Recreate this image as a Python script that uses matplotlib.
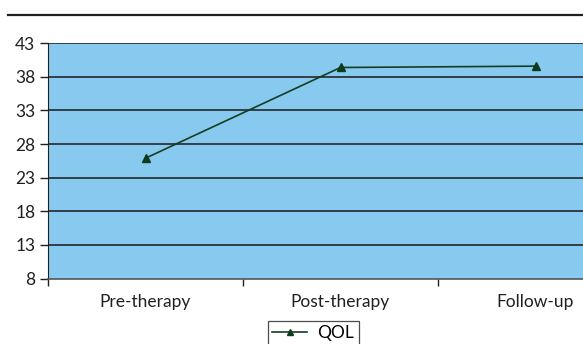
import matplotlib
matplotlib.use("Agg")
import matplotlib.pyplot as plt
from matplotlib.lines import Line2D

categories = ["Pre-therapy", "Post-therapy", "Follow-up"]
qol = [25.9, 39.4, 39.6]
yticks = [8, 13, 18, 23, 28, 33, 38, 43]

plt.rcParams['font.family'] = ['Lato', 'DejaVu Sans']

W, H = 583, 344
fig = plt.figure(figsize=(W/100, H/100), dpi=100)
fig.patch.set_facecolor("white")

# top rule
fig.add_artist(Line2D([8/W, 1.0], [1-15/H, 1-15/H], color="#231f20", lw=1.6, transform=fig.transFigure))

left, right = 48/W, 633/W
bottom, top = 1-278.5/H, 1-43.3/H
ax = fig.add_axes([left, bottom, right-left, top-bottom])
ax.set_facecolor("#88C9EF")
ax.set_xlim(-0.5, 2.5)
ax.set_ylim(8, 43)
ax.set_yticks(yticks)
ax.set_yticklabels([str(v) for v in yticks], fontsize=12.5, color="#231f20")
for v in yticks[1:]:
    ax.axhline(v, color="#1a1a1a", lw=1.1, zorder=2)
ax.set_xticks([0, 1, 2])
ax.set_xticklabels(categories, fontsize=12.5, color="#231f20")
ax.tick_params(axis='x', length=0, pad=11)
ax.set_xticks([-0.5, 0.5, 1.5, 2.5], minor=True)
ax.tick_params(axis='x', which='minor', length=5, width=1, color="#231f20", direction='out')
ax.tick_params(axis='y', length=6, width=1, color="#231f20", pad=3)
for s in ['top', 'right']:
    ax.spines[s].set_visible(False)
ax.spines['left'].set_color("#231f20")
ax.spines['bottom'].set_color("#555555")
ax.spines['bottom'].set_linewidth(1.2)

ax.plot(range(len(categories)), qol, color="#123f22", lw=1.2, marker='^',
        markersize=6, markerfacecolor="#0d3b1e", markeredgecolor="#0d3b1e", zorder=5, label="QOL", clip_on=False)

leg = fig.legend(handles=[Line2D([], [], color="#123f22", lw=1.2, marker='^', markersize=4,
                                  markerfacecolor="#0d3b1e", markeredgecolor="#0d3b1e")],
                 labels=["QOL"], loc='upper left', bbox_to_anchor=(268/W, 1-321/H),
                 fontsize=12.5, frameon=True, fancybox=False, borderpad=0.25,
                 handlelength=2.0, handletextpad=0.6, borderaxespad=0)
leg.get_frame().set_edgecolor("#231f20")
leg.get_frame().set_linewidth(0.9)

fig.savefig("out.png", dpi=100, facecolor="white")
